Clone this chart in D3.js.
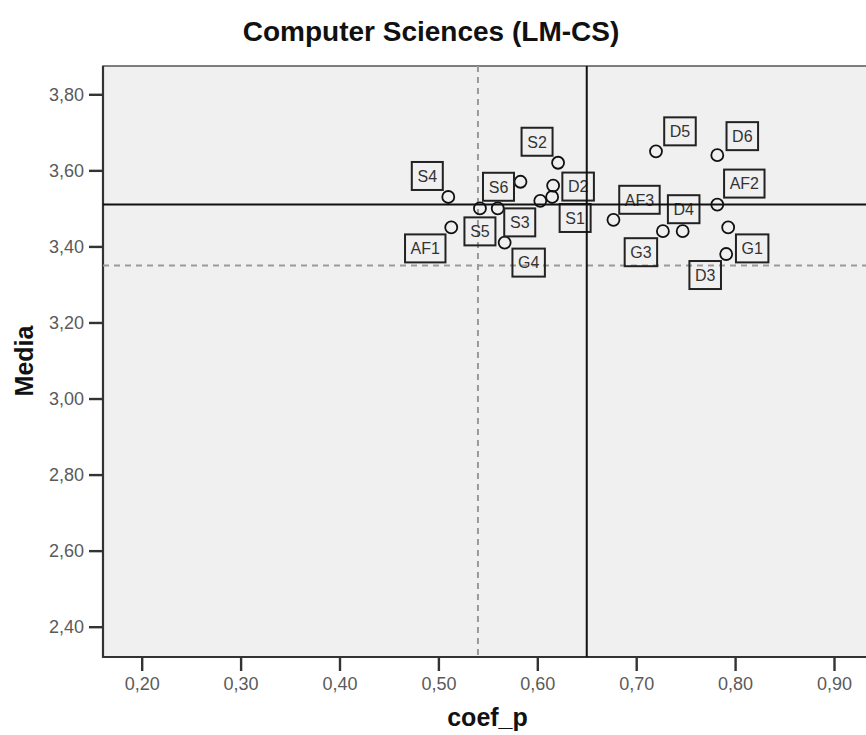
<!DOCTYPE html>
<html><head><meta charset="utf-8">
<script src="https://cdn.jsdelivr.net/npm/d3@7"></script>
<style>body{margin:0;background:#fff}svg{display:block}</style>
</head><body>
<svg id="chart" width="866" height="735"></svg>
<script>
// ---- data ----
const names = ["S4","AF1","S5","S3","S6","G4","S2","D2","S1","D1","AF3","D5","D6","AF2","G3","D4","G1","D3"];
const coefP = [0.510,0.513,0.542,0.560,0.583,0.567,0.621,0.616,0.615,0.603,0.677,0.720,0.782,0.782,0.727,0.747,0.793,0.791];
const media = [3.53,3.45,3.50,3.50,3.57,3.41,3.62,3.56,3.53,3.52,3.47,3.65,3.64,3.51,3.44,3.44,3.45,3.38];
const showLabel = [true,true,true,true,true,true,true,true,true,false,true,true,true,true,true,true,true,true];
const xTicks = [0.2,0.3,0.4,0.5,0.6,0.7,0.8,0.9];
const yTicks = [2.4,2.6,2.8,3.0,3.2,3.4,3.6,3.8];
const refX = {solid:0.65, dashed:0.54};
const refY = {solid:3.51, dashed:3.35};
// label placement (pixel offsets of label box centre from point) - layout only
const labelOffsets = [[-21,-21],[-26,21],[0,23],[22,14],[-22,5],[24,20],[-21,-21],[25,1],[23,21],[0,0],[26,-20],[24,-20],[25,-19],[27,-21],[-22,21],[1,-22],[24,21],[-21,21]];

const FONT = "Liberation Sans, Arial, sans-serif";
const svg = d3.select("#chart");
const x = d3.scaleLinear().domain([0.2,0.9]).range([141.7,834]);
const y = d3.scaleLinear().domain([2.4,3.8]).range([626.7,94.3]);
const plot = {left:103, top:66, right:900, bottom:657};
const fmt = v => d3.format(".2f")(v).replace(".", ",");

svg.append("rect").attr("x",plot.left).attr("y",plot.top)
  .attr("width",plot.right-plot.left).attr("height",plot.bottom-plot.top)
  .attr("fill","#f0f0f0").attr("stroke","#555").attr("stroke-width",1.5);

// axes
const xAxis = svg.append("g").attr("transform",`translate(0,${plot.bottom})`)
  .call(d3.axisBottom(x).tickValues(xTicks).tickFormat(fmt).tickSize(14).tickPadding(6));
const yAxis = svg.append("g").attr("transform",`translate(${plot.left},0)`)
  .call(d3.axisLeft(y).tickValues(yTicks).tickFormat(fmt).tickSize(14).tickPadding(5));
[xAxis,yAxis].forEach(g=>{
  g.select(".domain").remove();
  g.selectAll(".tick line").attr("stroke","#333").attr("stroke-width",2.4);
  g.selectAll(".tick text").attr("fill","#5a5a5a").attr("font-family",FONT).attr("font-size",18);
});
svg.append("line").attr("x1",plot.left).attr("x2",plot.left).attr("y1",plot.top).attr("y2",plot.bottom+1)
  .attr("stroke","#333").attr("stroke-width",2.2);
svg.append("line").attr("x1",plot.left-1).attr("x2",plot.right).attr("y1",plot.bottom).attr("y2",plot.bottom)
  .attr("stroke","#333").attr("stroke-width",2.2);

// dashed reference lines
svg.append("line").attr("x1",x(refX.dashed)).attr("x2",x(refX.dashed)).attr("y1",plot.top).attr("y2",plot.bottom)
  .attr("stroke","#9a9a9a").attr("stroke-width",2).attr("stroke-dasharray","6,5");
svg.append("line").attr("x1",plot.left).attr("x2",plot.right).attr("y1",y(refY.dashed)).attr("y2",y(refY.dashed))
  .attr("stroke","#9a9a9a").attr("stroke-width",2).attr("stroke-dasharray","6,5");

const data = names.map((n,i)=>({name:n, cx:coefP[i], m:media[i], show:showLabel[i], off:labelOffsets[i]}));

// points
svg.append("g").selectAll("circle").data(data).join("circle")
  .attr("cx",d=>x(d.cx)).attr("cy",d=>y(d.m)).attr("r",6)
  .attr("fill","none").attr("stroke","#111").attr("stroke-width",1.8);

// labels
const lg = svg.append("g").selectAll("g").data(data.filter(d=>d.show)).join("g")
  .attr("transform",d=>`translate(${x(d.cx)+d.off[0]},${y(d.m)+d.off[1]})`);
lg.append("text").text(d=>d.name).attr("text-anchor","middle").attr("dy","0.36em")
  .attr("font-family",FONT).attr("font-size",16).attr("fill","#333");
lg.each(function(){
  const g = d3.select(this); const bb = g.select("text").node().getBBox();
  const w = Math.max(31, bb.width+11), h = 28;
  g.insert("rect","text").attr("x",-w/2).attr("y",-h/2).attr("width",w).attr("height",h)
    .attr("fill","none").attr("stroke","#222").attr("stroke-width",2);
});

// solid reference lines
svg.append("line").attr("x1",x(refX.solid)).attr("x2",x(refX.solid)).attr("y1",plot.top).attr("y2",plot.bottom)
  .attr("stroke","#111").attr("stroke-width",2);
svg.append("line").attr("x1",plot.left).attr("x2",plot.right).attr("y1",y(refY.solid)).attr("y2",y(refY.solid))
  .attr("stroke","#111").attr("stroke-width",2);

// titles
svg.append("text").attr("x",431).attr("y",41).attr("text-anchor","middle")
  .attr("font-family",FONT).attr("font-weight","bold").attr("font-size",28)
  .attr("fill","#111").text("Computer Sciences (LM-CS)");
svg.append("text").attr("x",487.5).attr("y",726).attr("text-anchor","middle")
  .attr("font-family",FONT).attr("font-weight","bold").attr("font-size",25)
  .attr("fill","#111").text("coef_p");
svg.append("text").attr("transform","translate(33,361) rotate(-90)").attr("text-anchor","middle")
  .attr("font-family",FONT).attr("font-weight","bold").attr("font-size",25)
  .attr("fill","#111").text("Media");
</script>
</body></html>
